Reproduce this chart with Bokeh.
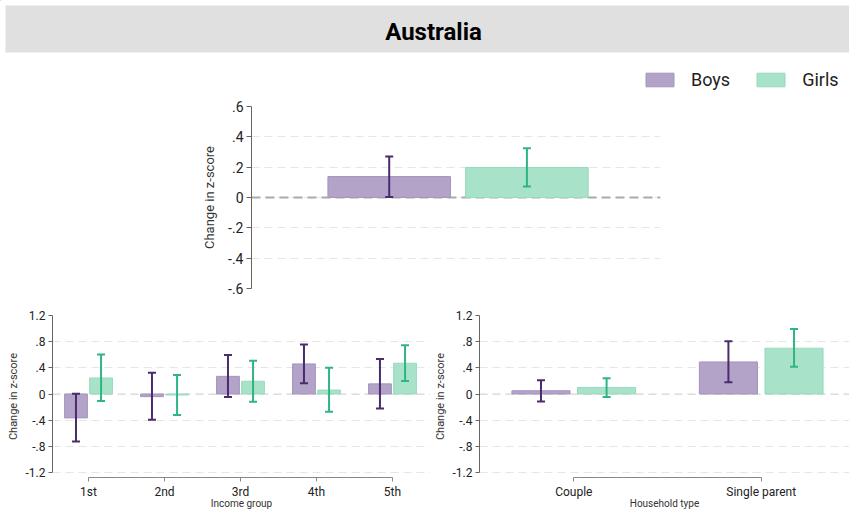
from bokeh.plotting import figure
from bokeh.models import (Range1d, FixedTicker, Whisker, TeeHead, ColumnDataSource, Span,
                          BoxAnnotation, Label, Legend, LegendItem, CustomJSTickFormatter)
from bokeh.layouts import column, row
from bokeh.embed import file_html
from bokeh.resources import INLINE

# ---------------- data ----------------
title_text = "Australia"
series = ["Boys", "Girls"]
y_label = "Change in z-score"

overall_values = [0.138, 0.198]
overall_lo = [0.004, 0.073]
overall_hi = [0.270, 0.324]

top_ticks = [-0.6, -0.4, -0.2, 0.0, 0.2, 0.4, 0.6]
top_tick_labels = ["-.6", "-.4", "-.2", "0", ".2", ".4", ".6"]

income_groups = ["1st", "2nd", "3rd", "4th", "5th"]
income_title = "Income group"
income_boys = [-0.365, -0.040, 0.270, 0.460, 0.155]
income_boys_lo = [-0.725, -0.395, -0.045, 0.165, -0.220]
income_boys_hi = [0.005, 0.325, 0.595, 0.755, 0.535]
income_girls = [0.245, -0.015, 0.195, 0.060, 0.470]
income_girls_lo = [-0.105, -0.320, -0.120, -0.270, 0.200]
income_girls_hi = [0.605, 0.290, 0.510, 0.400, 0.745]

household_groups = ["Couple", "Single parent"]
household_title = "Household type"
hh_boys = [0.050, 0.490]
hh_boys_lo = [-0.115, 0.180]
hh_boys_hi = [0.210, 0.805]
hh_girls = [0.100, 0.700]
hh_girls_lo = [-0.045, 0.415]
hh_girls_hi = [0.240, 0.995]

bottom_ticks = [-1.2, -0.8, -0.4, 0.0, 0.4, 0.8, 1.2]
bottom_tick_labels = ["-1.2", "-.8", "-.4", "0", ".4", ".8", "1.2"]

# ---------------- style ----------------
FONT = "Roboto"
BOYS_FILL = "#b3a3c8"
BOYS_LINE = "#a594bd"
BOYS_ERR = "#4a2b6e"
GIRLS_FILL = "#a8e2c9"
GIRLS_LINE = "#98dabd"
GIRLS_ERR = "#2fb585"
GRID = "#e6e6e6"


def label_formatter(tick_values, tick_texts):
    return CustomJSTickFormatter(args=dict(tvals=tick_values, ttexts=tick_texts), code="""
        for (let i = 0; i < tvals.length; i++) {
            if (Math.abs(tvals[i] - tick) < 1e-9) { return ttexts[i]; }
        }
        return "";
    """)


def base_fig(**kw):
    p = figure(toolbar_location=None, output_backend="svg", **kw)
    p.outline_line_color = None
    p.background_fill_color = "white"
    p.border_fill_color = "white"
    return p


def style_y(p, ticks, labels, tick_size, label_size, label_standoff):
    ax = p.yaxis[0]
    ax.ticker = FixedTicker(ticks=ticks)
    ax.formatter = label_formatter(ticks, labels)
    ax.bounds = (min(ticks), max(ticks))
    ax.axis_line_color = "#666666"
    ax.major_tick_line_color = "#666666"
    ax.major_tick_out = 5
    ax.major_tick_in = 0
    ax.minor_tick_line_color = None
    ax.major_label_text_font = FONT
    ax.major_label_text_font_size = tick_size
    ax.major_label_text_color = "#222222"
    ax.major_label_standoff = 3
    ax.axis_label = y_label
    ax.axis_label_text_font = FONT
    ax.axis_label_text_font_size = label_size
    ax.axis_label_text_font_style = "normal"
    ax.axis_label_text_color = "#333333"
    ax.axis_label_standoff = label_standoff
    p.ygrid.ticker = FixedTicker(ticks=ticks)
    p.ygrid.grid_line_color = GRID
    p.ygrid.grid_line_dash = "8 5"
    p.xgrid.visible = False


def add_bars(p, xs, vals, lo, hi, width, fill, line, err):
    src = ColumnDataSource(dict(x=xs, top=vals, lo=lo, hi=hi))
    p.vbar(x="x", top="top", bottom=0, width=width, source=src,
           fill_color=fill, line_color=line, line_width=1)
    w = Whisker(source=src, base="x", upper="hi", lower="lo",
                line_color=err, line_width=2,
                upper_head=TeeHead(size=8, line_color=err, line_width=2),
                lower_head=TeeHead(size=8, line_color=err, line_width=2))
    w.level = "overlay"
    p.add_layout(w)


# ---------------- header (title bar + legend) ----------------
header = base_fig(width=849, height=98, x_range=Range1d(0, 849), y_range=Range1d(98, 0),
                  min_border=0, x_axis_location=None, y_axis_location=None)
header.grid.visible = False
header.add_layout(BoxAnnotation(left=5, right=849, top=5, bottom=52,
                                fill_color="#e0e0e0", fill_alpha=1.0, line_color=None,
                                level="underlay"))
header.add_layout(Label(x=433, y=31, text=title_text, text_align="center",
                        text_baseline="middle", text_font=FONT, text_font_style="bold",
                        text_font_size="24px", text_color="#000000"))
# legend-only renderers (their single point lies outside the header's visible range)
rb = header.vbar(x=[-500], top=[-500], bottom=-501, width=1,
                 fill_color=BOYS_FILL, line_color=BOYS_LINE)
rg = header.vbar(x=[-500], top=[-500], bottom=-501, width=1,
                 fill_color=GIRLS_FILL, line_color=GIRLS_LINE)
legend = Legend(items=[LegendItem(label=series[0], renderers=[rb]),
                       LegendItem(label=series[1], renderers=[rg])],
                orientation="horizontal", location=(642, 8),
                border_line_color=None, background_fill_alpha=0.0,
                padding=5, margin=0, spacing=23, glyph_width=35, glyph_height=17,
                label_standoff=14, label_text_font=FONT, label_text_font_size="18px",
                label_text_color="#222222", label_text_baseline="middle")
header.add_layout(legend)

# ---------------- overall panel ----------------
top = base_fig(width=849, height=200, x_range=Range1d(0, 2.97), y_range=Range1d(-0.6, 0.6),
               min_border_left=251, min_border_right=189, min_border_top=8,
               min_border_bottom=10, x_axis_location=None)
style_y(top, top_ticks, top_tick_labels, "14px", "13px", 8)
top.add_layout(Span(location=0, dimension="width", line_color="#aaaaaa", line_width=2,
                    line_dash="9 5", level="underlay"))
top_x = [i + 1 for i in range(len(series))]
add_bars(top, [top_x[0]], [overall_values[0]], [overall_lo[0]], [overall_hi[0]], 0.89,
         BOYS_FILL, BOYS_LINE, BOYS_ERR)
add_bars(top, [top_x[1]], [overall_values[1]], [overall_lo[1]], [overall_hi[1]], 0.89,
         GIRLS_FILL, GIRLS_LINE, GIRLS_ERR)


def bottom_panel(groups, title, b, blo, bhi, g, glo, ghi, width, height, x_range,
                 left_border, bar_w, off):
    p = base_fig(width=width, height=height, x_range=x_range,
                 y_range=Range1d(-1.276, 1.2),
                 min_border_left=left_border, min_border_right=0,
                 min_border_top=17, min_border_bottom=34)
    style_y(p, bottom_ticks, bottom_tick_labels, "12px", "11px", 3)
    p.yaxis[0].major_tick_out = 4
    xs = [i + 1 for i in range(len(groups))]
    ax = p.xaxis[0]
    ax.ticker = FixedTicker(ticks=xs)
    ax.formatter = label_formatter(xs, groups)
    ax.bounds = (xs[0], xs[-1])
    ax.axis_line_color = "#888888"
    ax.major_tick_line_color = "#888888"
    ax.major_tick_out = 4
    ax.major_tick_in = 0
    ax.minor_tick_line_color = None
    ax.major_label_text_font = FONT
    ax.major_label_text_font_size = "12px"
    ax.major_label_text_color = "#222222"
    ax.major_label_text_line_height = 1.0
    ax.major_label_standoff = 3
    ax.axis_label = title
    ax.axis_label_text_font = FONT
    ax.axis_label_text_font_size = "10px"
    ax.axis_label_text_font_style = "normal"
    ax.axis_label_text_color = "#333333"
    ax.axis_label_text_line_height = 1.0
    ax.axis_label_standoff = -4
    p.add_layout(Span(location=0, dimension="width", line_color="#d6d6d6", line_width=1,
                      line_dash="8 5", level="underlay"))
    add_bars(p, [x - off for x in xs], b, blo, bhi, bar_w, BOYS_FILL, BOYS_LINE, BOYS_ERR)
    add_bars(p, [x + off for x in xs], g, glo, ghi, bar_w, GIRLS_FILL, GIRLS_LINE, GIRLS_ERR)
    return p


left = bottom_panel(income_groups, income_title, income_boys, income_boys_lo, income_boys_hi,
                    income_girls, income_girls_lo, income_girls_hi,
                    430, 213, Range1d(0.526, 5.5), 52, 0.30, 0.165)
right = bottom_panel(household_groups, household_title, hh_boys, hh_boys_lo, hh_boys_hi,
                     hh_girls, hh_girls_lo, hh_girls_hi,
                     419, 213, Range1d(0.497, 2.471), 46, 0.31, 0.175)

layout = column(row(header, spacing=0), top, row(left, right, spacing=0), spacing=0)

open("out.html", "w").write(file_html(layout, INLINE))
